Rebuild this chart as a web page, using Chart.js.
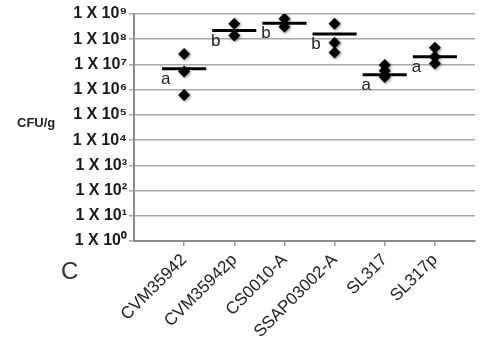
<!DOCTYPE html>
<html>
<head>
<meta charset="utf-8">
<script src="https://cdn.jsdelivr.net/npm/chart.js@4.4.1/dist/chart.umd.min.js"></script>
<style>
  html, body { margin: 0; padding: 0; background: #fff; }
  #wrap { width: 481px; height: 338px; }
</style>
</head>
<body>
<div id="wrap"><canvas id="cfuChart"></canvas></div>
<script>
// CFU/g per strain, log scale, with group letters under the mean bar.
var strains = ['CVM35942', 'CVM35942p', 'CS0010-A', 'SSAP03002-A', 'SL317', 'SL317p'];
var cfuValues = [
  [2.6e7, 5.2e6, 6.2e5],
  [4.1e8, 1.4e8],
  [6.5e8, 3.1e8],
  [4.1e8, 7.2e7, 3.0e7],
  [9.5e6, 5.6e6, 3.2e6],
  [4.6e7, 2.0e7, 1.1e7]
];
var cfuMeans = [6.7e6, 2.2e8, 4.3e8, 1.6e8, 3.9e6, 2.0e7];
var groupLetters = ['a', 'b', 'b', 'b', 'a', 'a'];
var decadeTicks = [1, 1e1, 1e2, 1e3, 1e4, 1e5, 1e6, 1e7, 1e8, 1e9];
var superDigits = ['\u2070', '\u00B9', '\u00B2', '\u00B3', '\u2074', '\u2075', '\u2076', '\u2077', '\u2078', '\u2079'];

var pointData = [];
strains.forEach(function (s, i) {
  cfuValues[i].forEach(function (v) { pointData.push({ x: i + 1, y: v }); });
});

var meanData = [];
cfuMeans.forEach(function (m, i) {
  meanData.push({ x: i + 1 - 0.44, y: m }, { x: i + 1 + 0.44, y: m }, { x: i + 1.5, y: null });
});

var FONT = '"Liberation Sans", Arial, Helvetica, sans-serif';

// letters, y-title and panel mark
var extras = {
  id: 'extras',
  beforeDatasetDraw: function (chart, args) {
    var ctx = chart.ctx;
    ctx.save();
    if (args.index === 1) {
      ctx.shadowColor = 'rgba(0,0,0,0.45)';
      ctx.shadowBlur = 3;
      ctx.shadowOffsetX = 1;
      ctx.shadowOffsetY = 1;
    }
  },
  afterDatasetDraw: function (chart) { chart.ctx.restore(); },
  afterDraw: function (chart) {
    var ctx = chart.ctx, xs = chart.scales.x, ys = chart.scales.y;
    ctx.save();
    ctx.fillStyle = '#222';
    ctx.font = '17px ' + FONT;
    ctx.textAlign = 'center';
    ctx.textBaseline = 'alphabetic';
    groupLetters.forEach(function (l, i) {
      ctx.fillText(l, xs.getPixelForValue(i + 1) - 18.5, ys.getPixelForValue(cfuMeans[i]) + 15);
    });
    ctx.font = 'bold 13px ' + FONT;
    ctx.textAlign = 'left';
    ctx.textBaseline = 'middle';
    ctx.fillText('CFU/g', 17, 123);
    ctx.fillStyle = '#333';
    ctx.font = '24px ' + FONT;
    ctx.fillText('C', 61, 272);
    ctx.restore();
  }
};

new Chart(document.getElementById('cfuChart'), {
  data: {
    datasets: [
      {
        type: 'line',
        data: meanData,
        borderColor: '#000',
        borderWidth: 3,
        pointRadius: 0,
        spanGaps: false,
        order: 1
      },
      {
        type: 'scatter',
        data: pointData,
        pointStyle: 'rectRot',
        pointRadius: 6,
        pointHoverRadius: 6,
        backgroundColor: '#000',
        borderColor: '#000',
        borderWidth: 0,
        order: 0
      }
    ]
  },
  options: {
    responsive: true,
    maintainAspectRatio: false,
    animation: false,
    events: [],
    layout: { padding: { top: 14, left: 0, right: 0, bottom: 0 } },
    plugins: { legend: { display: false }, tooltip: { enabled: false } },
    scales: {
      x: {
        type: 'linear',
        min: 0,
        max: 6.8,
        afterBuildTicks: function (scale) {
          scale.ticks = strains.map(function (s, i) { return { value: i + 1 }; });
        },
        afterFit: function (scale) { scale.height = 97; },
        ticks: {
          autoSkip: false,
          minRotation: 45,
          maxRotation: 45,
          padding: 4,
          color: '#222',
          font: { family: FONT, size: 17 },
          callback: function (v) { return strains[v - 1]; }
        },
        grid: { drawOnChartArea: false, tickLength: 5, color: '#999', lineWidth: 1.5 },
        border: { color: '#8c8c8c', width: 2 }
      },
      y: {
        type: 'logarithmic',
        min: 1,
        max: 1e9,
        afterBuildTicks: function (scale) {
          scale.ticks = decadeTicks.map(function (v) { return { value: v }; });
        },
        afterFit: function (scale) { scale.width = 134; },
        ticks: {
          padding: 2,
          color: '#1a1a1a',
          font: { family: FONT, size: 16, weight: 'bold' },
          callback: function (v) {
            var k = Math.round(Math.log10(v));
            return '1 X 10' + superDigits[k];
          }
        },
        grid: { color: '#a8a8a8', lineWidth: 1.5, tickLength: 5 },
        border: { color: '#8c8c8c', width: 2 }
      }
    }
  },
  plugins: [extras]
});
</script>
</body>
</html>
